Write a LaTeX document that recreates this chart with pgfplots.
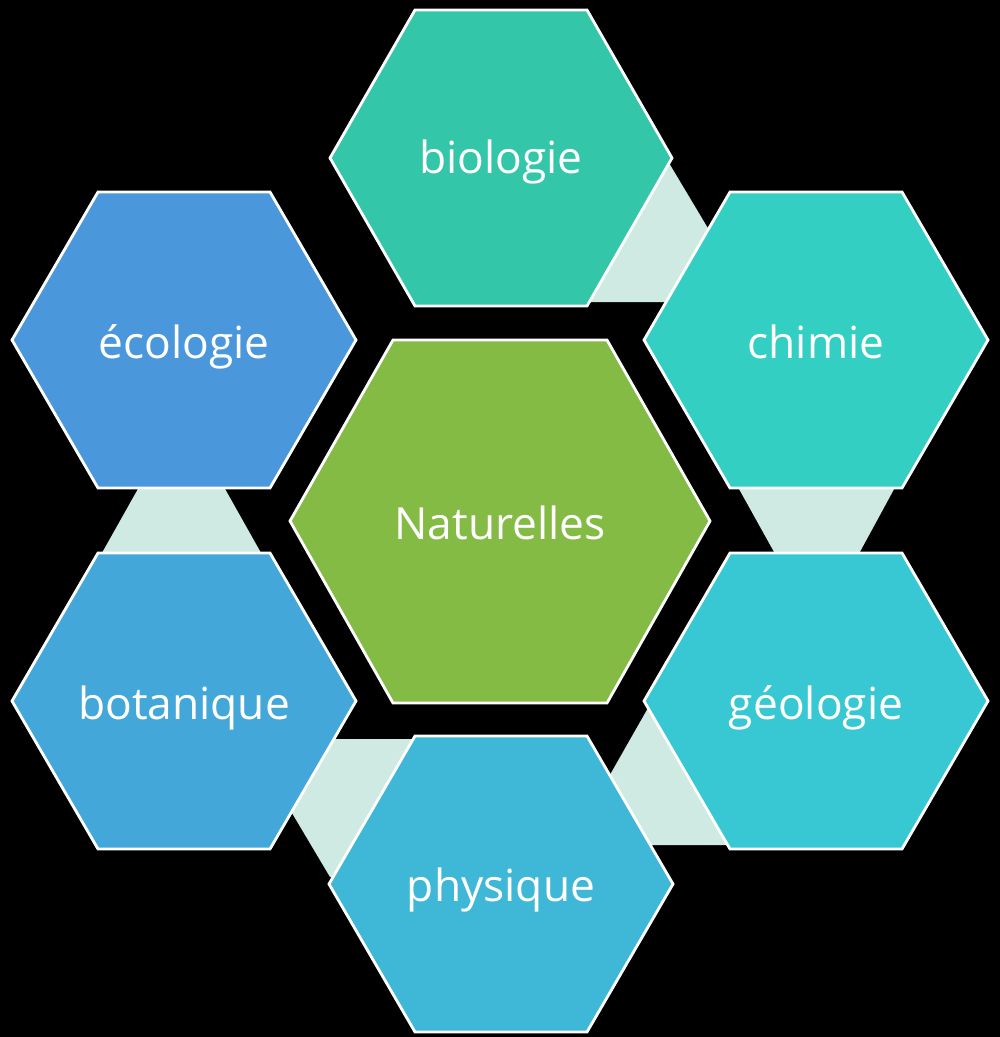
\documentclass[border=0pt]{standalone}
\usepackage{pgfplots}
\pgfplotsset{compat=1.18}
\usepackage{fontspec}
\setmainfont{Open Sans}
\definecolor{cbio}{HTML}{33C6A8}
\definecolor{cchi}{HTML}{34CFC3}
\definecolor{cgeo}{HTML}{38C8D3}
\definecolor{cphy}{HTML}{3FB7D6}
\definecolor{cbot}{HTML}{43A8D9}
\definecolor{ceco}{HTML}{4A98DB}
\definecolor{cnat}{HTML}{84BB45}
\definecolor{cconn}{HTML}{CFEAE2}
\begin{document}
\begin{tikzpicture}
\begin{axis}[width=10cm,height=10.37cm,scale only axis,hide axis,
  xmin=0,xmax=1000,ymin=0,ymax=1037,y dir=reverse,enlargelimits=false,clip=true]
% background
\addplot[fill=black,draw=none] coordinates {(0,0)(1000,0)(1000,1037)(0,1037)} -- cycle;
% connectors
\addplot[fill=cconn,draw=none] coordinates {(600,160)(666,158)(752,302)(580,302)} -- cycle;
\addplot[fill=cconn,draw=none] coordinates {(734,480)(899,480)(855.5,560)(778.5,560)} -- cycle;
\addplot[fill=cconn,draw=none] coordinates {(648,708)(740,708)(740,845)(570,845)} -- cycle;
\addplot[fill=cconn,draw=none] coordinates {(248,739)(420,739)(420,877)(330,877)} -- cycle;
\addplot[fill=cconn,draw=none] coordinates {(143,480)(220,480)(265,560)(98,560)} -- cycle;
% hexagons
\addplot[fill=cbio,draw=white,line width=0.8pt] coordinates {(330,158)(415,10)(587,10)(672,158)(587,306)(415,306)} -- cycle;
\addplot[fill=cchi,draw=white,line width=0.8pt] coordinates {(644,340)(730,192)(902,192)(988,340)(902,488)(730,488)} -- cycle;
\addplot[fill=cgeo,draw=white,line width=0.8pt] coordinates {(644,701)(730,553)(902,553)(988,701)(902,849)(730,849)} -- cycle;
\addplot[fill=cphy,draw=white,line width=0.8pt] coordinates {(329,884)(415,736)(587,736)(673,884)(587,1032)(415,1032)} -- cycle;
\addplot[fill=cbot,draw=white,line width=0.8pt] coordinates {(12,701)(98,553)(270,553)(356,701)(270,849)(98,849)} -- cycle;
\addplot[fill=ceco,draw=white,line width=0.8pt] coordinates {(12,340)(98,192)(270,192)(356,340)(270,488)(98,488)} -- cycle;
\addplot[fill=cnat,draw=white,line width=0.8pt] coordinates {(290,521)(393,340)(607,340)(710,521)(607,703)(393,703)} -- cycle;
% labels
\begin{scope}[every node/.style={anchor=base,text=white,inner sep=0pt,font=\fontsize{12.6}{15}\selectfont}]
\node at (axis cs:501,173) {biologie};
\node at (axis cs:816,358) {chimie};
\node at (axis cs:816,719) {géologie};
\node at (axis cs:501,901) {physique};
\node at (axis cs:184,719) {botanique};
\node at (axis cs:184,358) {écologie};
\node at (axis cs:500,539) {Naturelles};
\end{scope}
\end{axis}
\end{tikzpicture}
\end{document}
